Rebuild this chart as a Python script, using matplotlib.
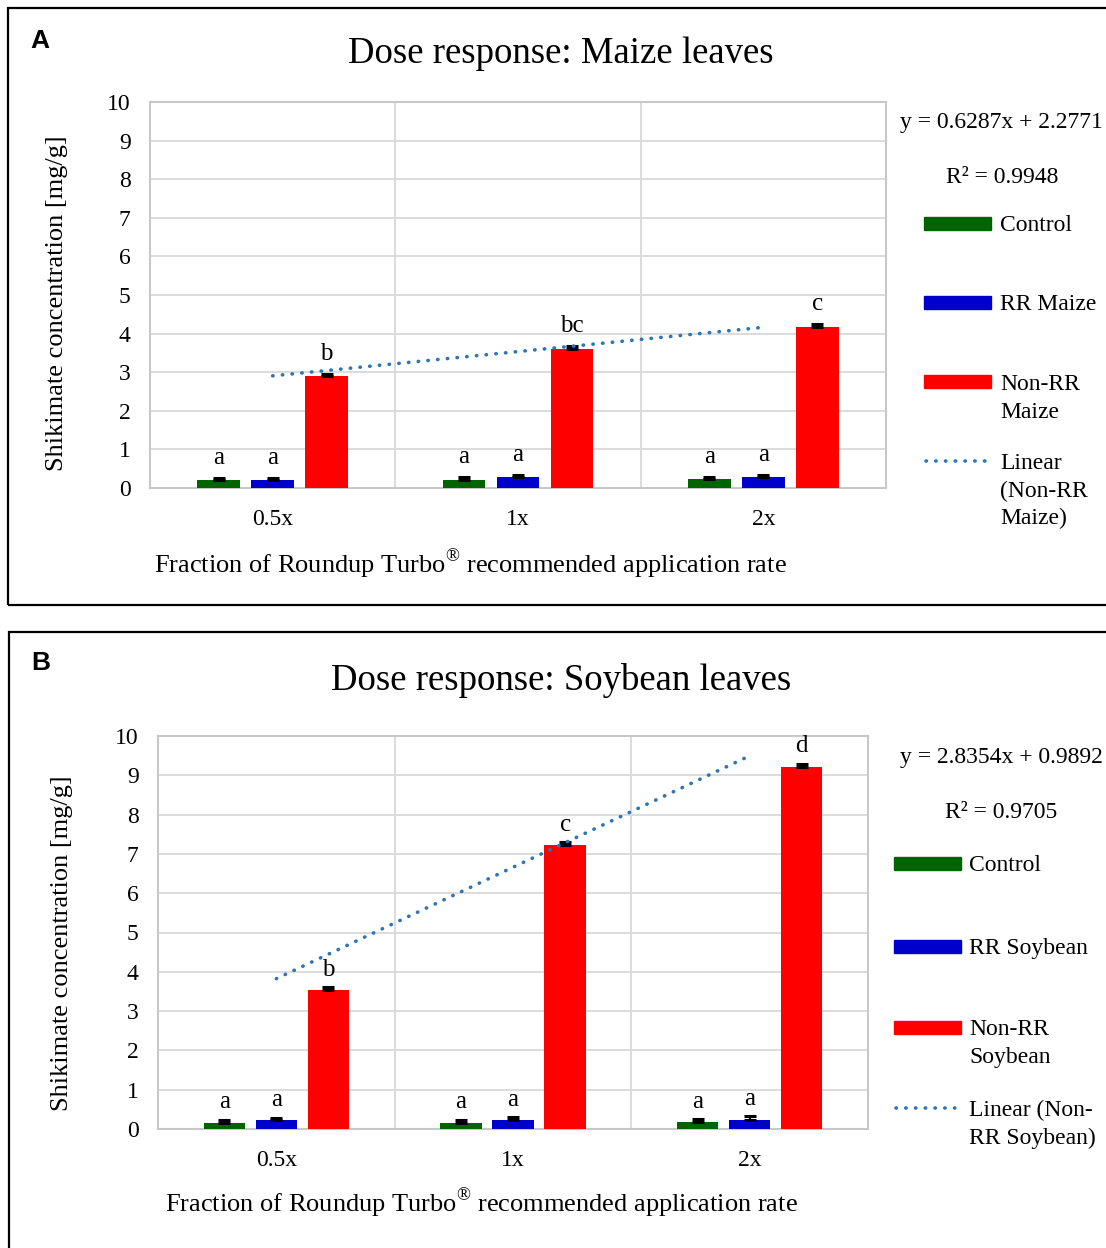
import matplotlib
matplotlib.use("Agg")
import matplotlib.pyplot as plt
import numpy as np
from matplotlib.patches import Rectangle
from matplotlib.lines import Line2D

##====================== data =============
doses = ["0.5x", "1x", "2x"]

maize_control = [0.20, 0.22, 0.23]
maize_control_err = [0.05, 0.06, 0.06]
maize_rr = [0.20, 0.28, 0.28]
maize_rr_err = [0.05, 0.05, 0.05]
maize_nonrr = [2.89, 3.60, 4.16]
maize_nonrr_err = [0.07, 0.09, 0.09]
maize_letters_control = ["a", "a", "a"]
maize_letters_rr = ["a", "a", "a"]
maize_letters_nonrr = ["b", "bc", "c"]
maize_slope, maize_intercept, maize_r2 = 0.6287, 2.2771, 0.9948

soy_control = [0.15, 0.15, 0.17]
soy_control_err = [0.09, 0.09, 0.08]
soy_rr = [0.22, 0.24, 0.24]
soy_rr_err = [0.07, 0.07, 0.08]
soy_nonrr = [3.54, 7.22, 9.20]
soy_nonrr_err = [0.08, 0.09, 0.10]
soy_letters_control = ["a", "a", "a"]
soy_letters_rr = ["a", "a", "a"]
soy_letters_nonrr = ["b", "c", "d"]
soy_slope, soy_intercept, soy_r2 = 2.8354, 0.9892, 0.9705

GREEN = "#006400"
BLUE = "#0000cc"
RED = "#ff0000"
TREND = "#2e75b6"
GRID = "#d9d9d9"
DOTS = (0, (0.1, 2.6))

W, H = 1106, 1248
plt.rcParams["font.family"] = ["Liberation Serif", "DejaVu Serif"]
plt.rcParams["mathtext.fontset"] = "custom"
plt.rcParams["mathtext.rm"] = "Liberation Serif"

fig = plt.figure(figsize=(W / 100, H / 100), dpi=100)


def fx(px):
    return px / W


def fy(py):
    return 1 - py / H


def draw_panel(ax, series, letters, slope, intercept, letter_off):
    x = np.arange(len(doses))
    offsets = [-0.22, 0.0, 0.22]
    colors = [GREEN, BLUE, RED]
    for (vals, errs), lets, off, col in zip(series, letters, offsets, colors):
        ax.bar(x + off, vals, width=0.175, color=col, zorder=3)
        ax.errorbar(x + off, vals, yerr=[np.zeros(3), errs], fmt="none",
                    ecolor="black", elinewidth=1.5, capsize=4.3, capthick=2.2,
                    zorder=4)
        for xi, v, e, l in zip(x + off, vals, errs, lets):
            ax.annotate(l, (xi, v + e), xytext=(0, letter_off),
                        textcoords="offset points", ha="center",
                        va="baseline", fontsize=18, zorder=5)
    # linear trend (Excel x = 1, 2, 3)
    trend = [slope * (i + 1) + intercept for i in x]
    ax.plot(x, trend, color=TREND, lw=2.6, linestyle=DOTS,
            dash_capstyle="round", zorder=4)

    ax.set_xlim(-0.5, 2.5)
    ax.set_ylim(0, 10)
    ax.set_yticks(range(0, 11))
    ax.set_xticks(x)
    ax.set_xticklabels(doses)
    ax.set_xticks([0.5, 1.5], minor=True)
    ax.tick_params(axis="both", which="both", length=0, labelsize=17)
    ax.tick_params(axis="x", pad=15)
    ax.tick_params(axis="y", pad=14)
    ax.grid(axis="y", which="major", color=GRID, lw=1.3, zorder=0)
    ax.grid(axis="x", which="minor", color=GRID, lw=1.3, zorder=0)
    for s in ax.spines.values():
        s.set_color("#c8c8c8")
        s.set_linewidth(1.5)


def draw_legend(x_handle, x_text, rows, labels):
    for (y, kind, col), lines in zip(rows, labels):
        if kind == "bar":
            fig.patches.append(Rectangle((fx(x_handle), fy(y + 6.5)),
                                         fx(67), 13 / H, color=col,
                                         transform=fig.transFigure))
        else:
            fig.lines.append(Line2D([fx(x_handle + 2), fx(x_handle + 65)],
                                    [fy(y), fy(y)], color=col, lw=2.6,
                                    linestyle=DOTS, dash_capstyle="round",
                                    transform=fig.transFigure))
        for i, line in enumerate(lines):
            fig.text(fx(x_text), fy(y + i * 27.5), line, fontsize=17,
                     ha="left", va="center_baseline")


##====================== panel A =============
axA = fig.add_axes([fx(150), fy(488), fx(886) - fx(150), fy(102) - fy(488)])
draw_panel(axA,
           [(maize_control, maize_control_err), (maize_rr, maize_rr_err),
            (maize_nonrr, maize_nonrr_err)],
           [maize_letters_control, maize_letters_rr, maize_letters_nonrr],
           maize_slope, maize_intercept, 10)
axA.set_ylabel("Shikimate concentration [mg/g]", fontsize=19, va="center")
axA.yaxis.set_label_coords(-0.126, 0.479)
axA.set_xlabel(r"Fraction of Roundup Turbo$^{\mathrm{®}}$ recommended application rate",
               fontsize=19, va="center")
axA.xaxis.set_label_coords(0.436, -0.199)

fig.text(fx(561), fy(50), "Dose response: Maize leaves", fontsize=26.5,
         ha="center", va="center_baseline")
fig.text(fx(1001), fy(120), f"y = {maize_slope}x + {maize_intercept}",
         fontsize=17, ha="center", va="center_baseline")
fig.text(fx(1002), fy(175), f"R² = {maize_r2}", fontsize=17,
         ha="center", va="center_baseline")
draw_legend(924, 1000,
            [(223, "bar", GREEN), (302.5, "bar", BLUE), (382, "bar", RED),
             (461, "line", TREND)],
            [["Control"], ["RR Maize"], ["Non-RR", "Maize"],
             ["Linear", "(Non-RR", "Maize)"]])

##====================== panel B =============
axB = fig.add_axes([fx(158), fy(1129), fx(868) - fx(158), fy(736) - fy(1129)])
draw_panel(axB,
           [(soy_control, soy_control_err), (soy_rr, soy_rr_err),
            (soy_nonrr, soy_nonrr_err)],
           [soy_letters_control, soy_letters_rr, soy_letters_nonrr],
           soy_slope, soy_intercept, 8)
axB.set_ylabel("Shikimate concentration [mg/g]", fontsize=19, va="center")
axB.yaxis.set_label_coords(-0.135, 0.473)
axB.set_xlabel(r"Fraction of Roundup Turbo$^{\mathrm{®}}$ recommended application rate",
               fontsize=19, va="center")
axB.xaxis.set_label_coords(0.456, -0.188)

fig.text(fx(561), fy(676), "Dose response: Soybean leaves", fontsize=26.5,
         ha="center", va="center_baseline")
fig.text(fx(1001), fy(755), f"y = {soy_slope}x + {soy_intercept}",
         fontsize=17, ha="center", va="center_baseline")
fig.text(fx(1001), fy(810), f"R² = {soy_r2}", fontsize=17,
         ha="center", va="center_baseline")
draw_legend(894, 969,
            [(863, "bar", GREEN), (946, "bar", BLUE), (1027, "bar", RED),
             (1108, "line", TREND)],
            [["Control"], ["RR Soybean"], ["Non-RR", "Soybean"],
             ["Linear (Non-", "RR Soybean)"]])

##====================== panel frames and letters =============
fig.patches.append(Rectangle((fx(8), fy(605)), fx(1200), fy(8) - fy(605),
                             fill=False, ec="black", lw=1.6,
                             transform=fig.transFigure))
fig.patches.append(Rectangle((fx(9), fy(1260)), fx(1200), fy(632) - fy(1260),
                             fill=False, ec="black", lw=1.6,
                             transform=fig.transFigure))
fig.text(fx(30), fy(41), "A", fontsize=19, fontweight="bold",
         family="Liberation Sans", ha="left", va="center")
fig.text(fx(31), fy(663), "B", fontsize=19, fontweight="bold",
         family="Liberation Sans", ha="left", va="center")

fig.savefig("out.png", dpi=100, facecolor="white")
